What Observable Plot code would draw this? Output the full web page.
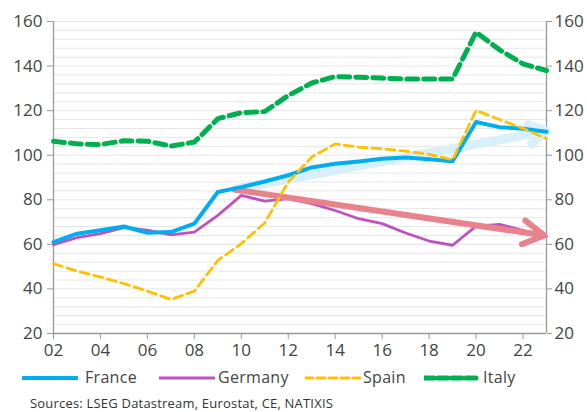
<!DOCTYPE html>
<html>
<head>
<meta charset="utf-8">
<script src="https://cdn.jsdelivr.net/npm/d3@7"></script>
<script src="https://cdn.jsdelivr.net/npm/@observablehq/plot@0.6"></script>
<style>
  html, body { margin: 0; padding: 0; background: #fff; }
  body { width: 587px; height: 412px; position: relative; overflow: hidden; font-family: "Open Sans", sans-serif; color: #444; }
  #chart { position: absolute; left: 0; top: 0; }
  .leg { position: absolute; top: 366px; font-size: 16px; letter-spacing: 0.3px; color: #444; white-space: nowrap; }
  .legline { position: absolute; top: 374px; }
  #caption { position: absolute; left: 30px; top: 394px; font-size: 13px; letter-spacing: 0.2px; color: #333; white-space: nowrap; }
</style>
</head>
<body>
<div id="chart"></div>
<div id="legend"></div>
<div id="caption">Sources: LSEG Datastream, Eurostat, CE, NATIXIS</div>
<script>
const years   = [2002,2003,2004,2005,2006,2007,2008,2009,2010,2011,2012,2013,2014,2015,2016,2017,2018,2019,2020,2021,2022,2023];
const france  = [61.0,64.8,66.3,68.0,65.2,65.5,69.3,83.5,85.7,88.2,91.0,94.5,96.2,97.2,98.4,99.0,98.2,97.3,114.9,112.6,111.9,110.5];
const germany = [59.9,63.0,64.8,67.5,66.4,64.3,65.5,73.0,82.0,79.4,80.5,78.3,75.2,71.5,69.3,65.1,61.5,59.6,68.2,69.0,66.3,63.6];
const spain   = [51.3,48.0,45.3,42.4,39.0,35.3,39.0,52.8,60.3,69.6,88.0,99.2,105.1,103.6,102.9,101.8,100.4,98.0,120.1,116.0,112.0,107.4];
const italy   = [106.3,105.1,104.8,106.5,106.3,104.1,105.9,116.4,119.1,119.6,126.8,132.4,135.3,135.0,134.6,134.2,134.2,134.2,155.2,147.3,141.0,138.0];
const seriesNames = ["France","Germany","Spain","Italy"];
const seriesColors = ["#00AEEF","#C052C0","#FFC000","#00B050"];
const xTicks = [2002,2004,2006,2008,2010,2012,2014,2016,2018,2020,2022];
const yTicks = [20,40,60,80,100,120,140,160];
// trend arrows: [x1, y1, x2, y2]
const trendFrance  = [2009.8, 85.0, 2023.0, 110.8];
const trendGermany = [2009.7, 84.6, 2022.9, 64.0];

const toRows = (vals) => years.map((y, i) => ({year: y, value: vals[i]}));
const gridVals = d3.range(20, 161, 4);

const chart = Plot.plot({
  width: 587,
  height: 360,
  marginLeft: 53,
  marginRight: 41,
  marginTop: 21,
  marginBottom: 27,
  style: {fontFamily: "Open Sans, sans-serif", fontSize: "17px", color: "#444", background: "white"},
  x: {domain: [2002, 2023]},
  y: {domain: [20, 160]},
  marks: [
    Plot.ruleY(gridVals, {stroke: "#e6e6e6", strokeWidth: 1}),
    Plot.axisY({anchor: "left", ticks: yTicks, tickSize: 6, tickPadding: 5, label: null, stroke: "#999", fontSize: 17}),
    Plot.axisY({anchor: "right", ticks: yTicks, tickSize: 5, tickPadding: 3, label: null, stroke: "#999", fontSize: 17}),
    Plot.axisX({ticks: xTicks, tickSize: 6, tickPadding: 4, label: null, stroke: "#999", fontSize: 17,
      tickFormat: d => String(d % 100).padStart(2, "0")}),
    Plot.ruleX([2002, 2023], {stroke: "#999", strokeWidth: 1.3}),
    Plot.ruleY([20], {stroke: "#999", strokeWidth: 1.3}),
    Plot.arrow([trendFrance], {x1: d => d[0], y1: d => d[1], x2: d => d[2], y2: d => d[3],
      stroke: "#d8f0fb", strokeWidth: 9, headLength: 3.3, headAngle: 60, bend: 0}),
    Plot.line(toRows(germany), {x: "year", y: "value", stroke: seriesColors[1], strokeWidth: 2.8}),
    Plot.arrow([trendGermany], {x1: d => d[0], y1: d => d[1], x2: d => d[2], y2: d => d[3],
      stroke: "#E8838E", strokeWidth: 6, headLength: 6, headAngle: 60, bend: 0}),
    Plot.line(toRows(france), {x: "year", y: "value", stroke: seriesColors[0], strokeWidth: 4}),
    Plot.line(toRows(spain), {x: "year", y: "value", stroke: seriesColors[2], strokeWidth: 2.8, strokeDasharray: "9,5"}),
    Plot.line(toRows(italy), {x: "year", y: "value", stroke: seriesColors[3], strokeWidth: 5, strokeDasharray: "11,6"})
  ]
});
document.getElementById("chart").appendChild(chart);

// Legend
const legendLayout = [
  {lx: 22, tx: 85, w: 4, dash: null},
  {lx: 159, tx: 218, w: 3, dash: null},
  {lx: 305, tx: 363, w: 3, dash: "8,4"},
  {lx: 424, tx: 483, w: 5, dash: "10,4"}
];
const legend = document.getElementById("legend");
seriesNames.forEach((name, i) => {
  const L = legendLayout[i];
  const svg = d3.create("svg").attr("class", "legline").attr("width", 56).attr("height", 8)
    .style("left", L.lx + "px");
  svg.append("line").attr("x1", 0).attr("x2", 55).attr("y1", 4).attr("y2", 4)
    .attr("stroke", seriesColors[i]).attr("stroke-width", L.w)
    .attr("stroke-dasharray", L.dash).attr("stroke-linecap", "round");
  legend.appendChild(svg.node());
  const t = document.createElement("div");
  t.className = "leg";
  t.style.left = L.tx + "px";
  t.textContent = name;
  legend.appendChild(t);
});
</script>
</body>
</html>
